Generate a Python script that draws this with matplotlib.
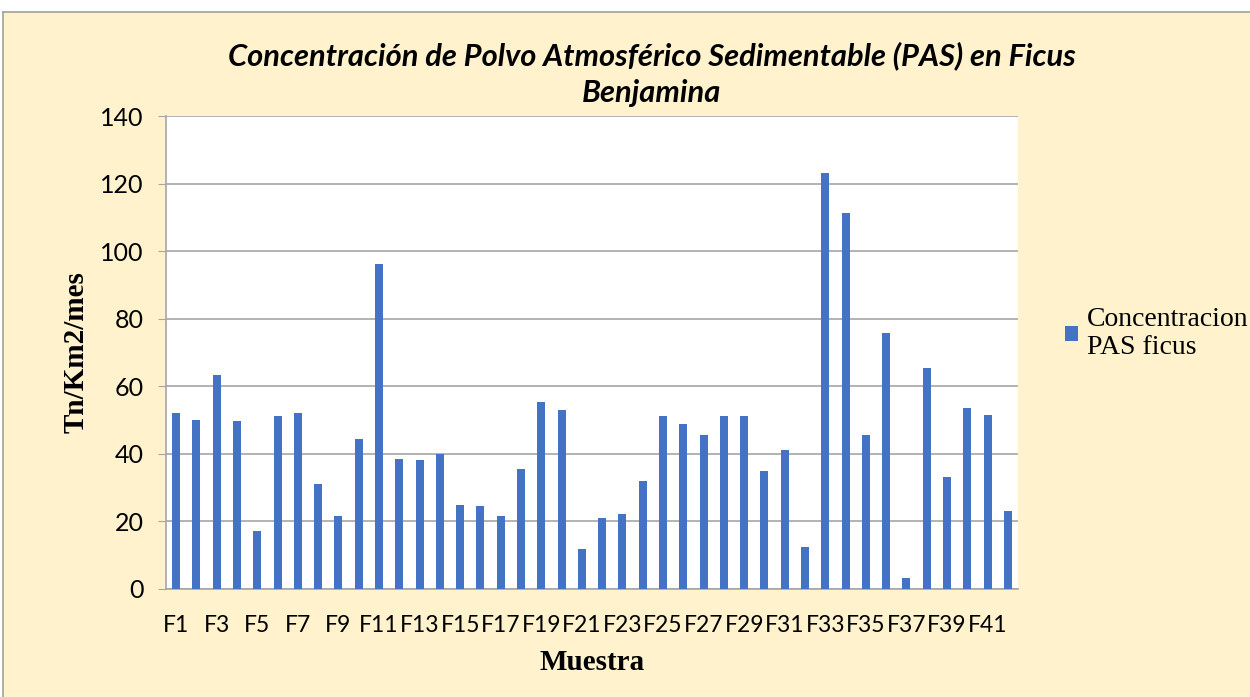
import matplotlib
matplotlib.use("Agg")
import matplotlib.pyplot as plt
from matplotlib.patches import Rectangle
from matplotlib.lines import Line2D

categories = [f"F{i}" for i in range(1, 43)]
values = [52.0, 50.0, 63.2, 49.8, 17.3, 51.2, 52.0, 31.0, 21.5, 44.5,
          96.3, 38.6, 38.2, 40.0, 24.8, 24.5, 21.6, 35.5, 55.3, 53.1,
          11.9, 21.0, 22.3, 32.0, 51.3, 48.8, 45.5, 51.2, 51.2, 34.8,
          41.2, 12.3, 123.0, 111.3, 45.5, 75.8, 3.3, 65.5, 33.2, 53.6,
          51.6, 23.2]
yticks = [0, 20, 40, 60, 80, 100, 120, 140]
series_name = "Concentracion\nPAS ficus"
title = "Concentración de Polvo Atmosférico Sedimentable (PAS) en Ficus\nBenjamina"

W, H = 1250, 697
CREAM = "#FFF2CC"
fig = plt.figure(figsize=(W / 100, H / 100), dpi=100, facecolor=CREAM)

L, R, T, B = 166, 1018, 116, 589

# white margin above and left of the chart frame, and the frame lines
fig.add_artist(Rectangle((0, 1 - 12 / H), 1, 12 / H, transform=fig.transFigure,
                         facecolor="white", edgecolor="none", zorder=-5))
fig.add_artist(Rectangle((0, 0), 3 / W, 1, transform=fig.transFigure,
                         facecolor="white", edgecolor="none", zorder=-5))
fig.add_artist(Line2D([3 / W, 1], [1 - 12 / H, 1 - 12 / H], transform=fig.transFigure,
                      color="#A0A0A0", linewidth=1.2))
fig.add_artist(Line2D([3 / W, 3 / W], [0, 1 - 12 / H], transform=fig.transFigure,
                      color="#A0A0A0", linewidth=1.2))

ax = fig.add_axes([L / W, 1 - B / H, (R - L) / W, (B - T) / H], facecolor="#FFFFFF")
x = list(range(len(categories)))
ax.bar(x, values, width=0.4, color="#4472C4", label=series_name, zorder=3)
ax.set_xlim(-0.5, len(categories) - 0.5)
ax.set_ylim(0, 140)
ax.set_yticks(yticks)
ax.yaxis.grid(True, color="#A6A6A6", linewidth=1.2, zorder=0)
ax.set_axisbelow(True)
ax.set_xticks(x[::2])
ax.set_xticklabels(categories[::2], fontfamily="Lato", fontsize=16.5)
ax.tick_params(axis="x", length=0, pad=19)
ax.tick_params(axis="y", length=6, color="#A6A6A6", labelsize=18, pad=10)
for lab in ax.get_yticklabels():
    lab.set_fontfamily("Lato")
for s in ["top", "right"]:
    ax.spines[s].set_visible(False)
ax.spines["left"].set_color("#A6A6A6")
ax.spines["bottom"].set_color("#A6A6A6")
ax.spines["left"].set_linewidth(1.2)
ax.spines["bottom"].set_linewidth(1.2)

ax.set_ylabel("Tn/Km2/mes", fontfamily="Liberation Serif", fontweight="bold",
              fontsize=21, labelpad=8)
ax.set_xlabel("Muestra", fontfamily="Liberation Serif", fontweight="bold",
              fontsize=21, labelpad=9)

fig.text(652 / W, 1 - 74 / H, title, ha="center", va="center",
         fontfamily="Lato", fontstyle="italic", fontweight="bold", fontsize=22.2,
         linespacing=1.4)

leg = ax.legend(loc="center left", bbox_to_anchor=(1.055, 0.54), frameon=False,
                prop={"family": "Liberation Serif", "size": 20},
                handlelength=0.47, handleheight=0.47, handletextpad=0.32,
                borderaxespad=0, borderpad=0)

fig.savefig("out.png", dpi=100, facecolor=CREAM, transparent=False)
